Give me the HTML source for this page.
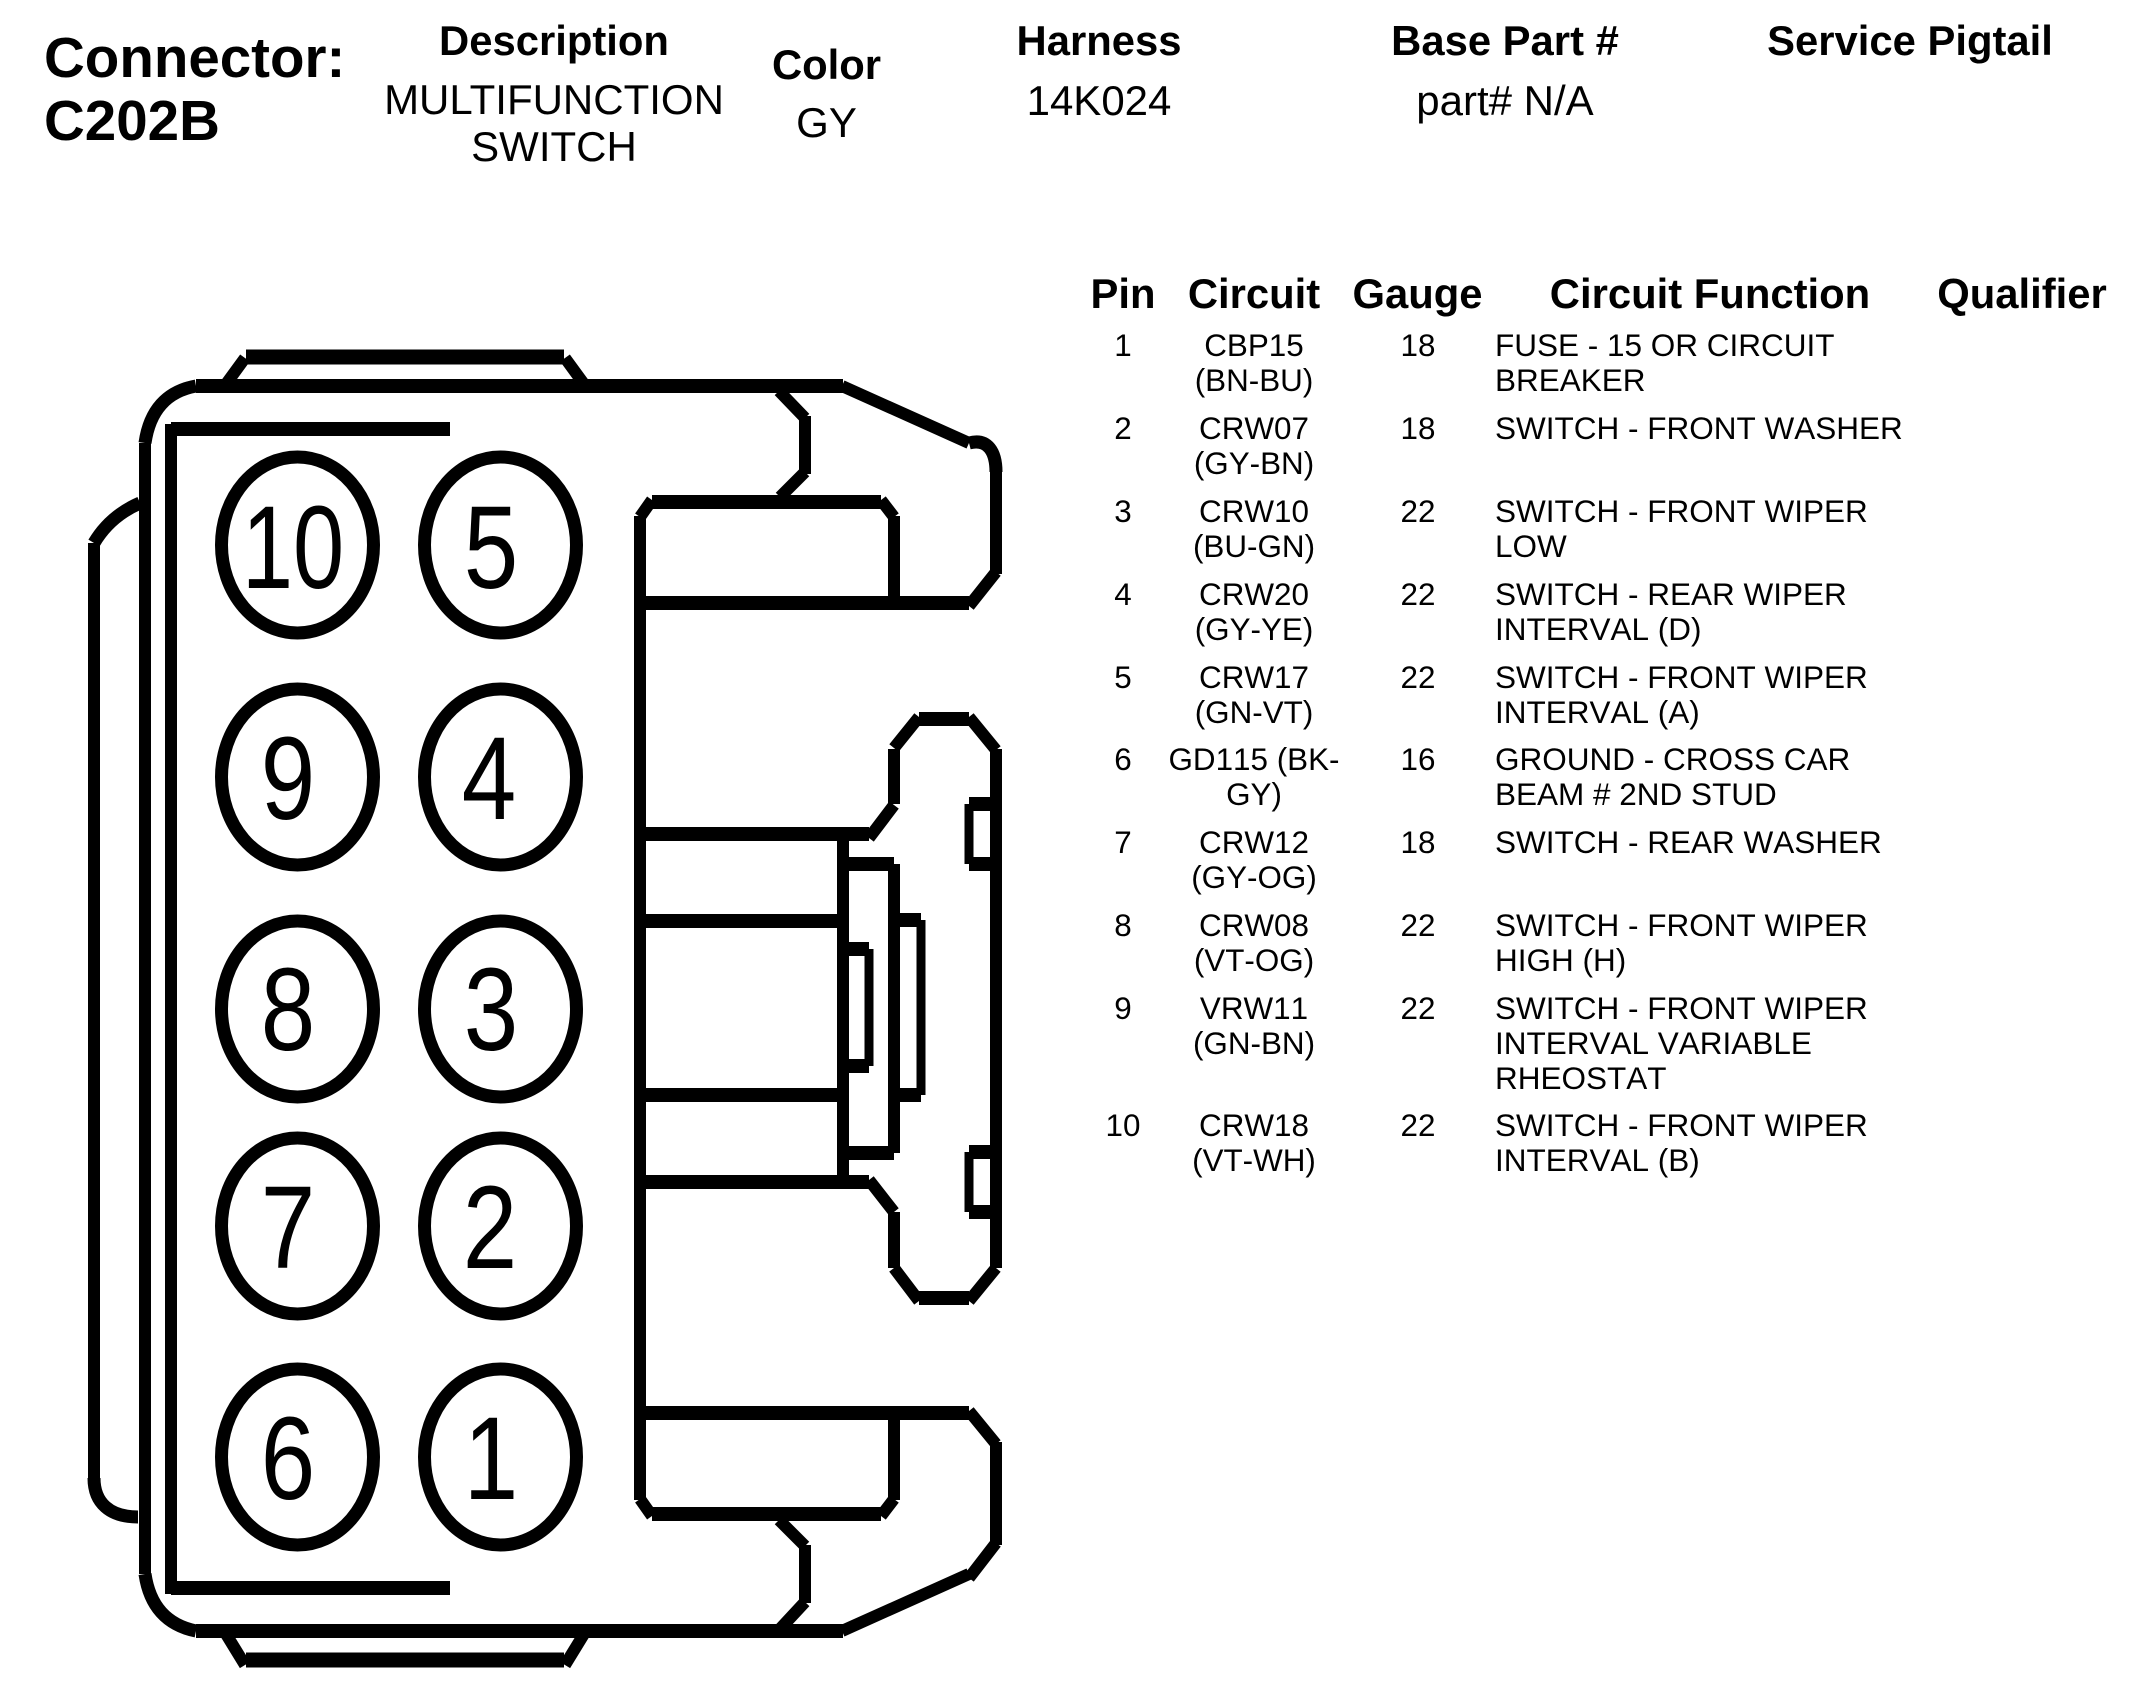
<!DOCTYPE html>
<html><head><meta charset="utf-8"><style>
html,body{margin:0;padding:0;background:#fff}
svg{display:block}
text{font-family:"Liberation Sans",sans-serif;fill:#000}
.b{font-weight:bold;font-size:41.8px;text-anchor:middle}
.h{font-size:42px;text-anchor:middle}
.c{font-size:31.4px;text-anchor:middle;font-kerning:none}
.f{font-size:31.5px;font-kerning:none}
.d{font-size:118px;text-anchor:middle}
.t{stroke:#000;stroke-width:14;fill:none}
.v{stroke:#000;stroke-width:12;fill:none}
.n{stroke:#000;stroke-width:9;fill:none}
.g{stroke:#000;stroke-width:13;fill:none}
</style></head><body>
<svg width="2145" height="1701" viewBox="0 0 2145 1701" xmlns="http://www.w3.org/2000/svg">
<rect width="2145" height="1701" fill="#fff"/>
<text x="44" y="77" style="font-weight:bold;font-size:56.5px">Connector:</text>
<text x="44" y="140" style="font-weight:bold;font-size:56.5px">C202B</text>
<text class="b" x="554" y="55">Description</text>
<text class="h" x="554" y="114">MULTIFUNCTION</text>
<text class="h" x="554" y="161">SWITCH</text>
<text class="b" x="826.5" y="79">Color</text>
<text class="h" x="826.5" y="137">GY</text>
<text class="b" x="1099" y="55">Harness</text>
<text class="h" x="1099" y="115">14K024</text>
<text class="b" x="1505" y="55">Base Part #</text>
<text class="h" x="1505" y="115">part# N/A</text>
<text class="b" x="1910" y="55">Service Pigtail</text>

<text class="b" x="1123" y="308">Pin</text>
<text class="b" x="1254" y="308">Circuit</text>
<text class="b" x="1417.5" y="308">Gauge</text>
<text class="b" x="1710" y="308">Circuit Function</text>
<text class="b" x="2022" y="308">Qualifier</text>

<text class="c" x="1123" y="356">1</text><text class="c" x="1254" y="356">CBP15</text><text class="c" x="1254" y="391">(BN-BU)</text><text class="c" x="1418" y="356">18</text><text class="f" x="1495" y="356">FUSE - 15 OR CIRCUIT</text><text class="f" x="1495" y="391">BREAKER</text>
<text class="c" x="1123" y="439">2</text><text class="c" x="1254" y="439">CRW07</text><text class="c" x="1254" y="474">(GY-BN)</text><text class="c" x="1418" y="439">18</text><text class="f" x="1495" y="439">SWITCH - FRONT WASHER</text>
<text class="c" x="1123" y="522">3</text><text class="c" x="1254" y="522">CRW10</text><text class="c" x="1254" y="557">(BU-GN)</text><text class="c" x="1418" y="522">22</text><text class="f" x="1495" y="522">SWITCH - FRONT WIPER</text><text class="f" x="1495" y="557">LOW</text>
<text class="c" x="1123" y="605">4</text><text class="c" x="1254" y="605">CRW20</text><text class="c" x="1254" y="640">(GY-YE)</text><text class="c" x="1418" y="605">22</text><text class="f" x="1495" y="605">SWITCH - REAR WIPER</text><text class="f" x="1495" y="640">INTERVAL (D)</text>
<text class="c" x="1123" y="688">5</text><text class="c" x="1254" y="688">CRW17</text><text class="c" x="1254" y="723">(GN-VT)</text><text class="c" x="1418" y="688">22</text><text class="f" x="1495" y="688">SWITCH - FRONT WIPER</text><text class="f" x="1495" y="723">INTERVAL (A)</text>
<text class="c" x="1123" y="770">6</text><text class="c" x="1254" y="770">GD115 (BK-</text><text class="c" x="1254" y="805">GY)</text><text class="c" x="1418" y="770">16</text><text class="f" x="1495" y="770">GROUND - CROSS CAR</text><text class="f" x="1495" y="805">BEAM # 2ND STUD</text>
<text class="c" x="1123" y="853">7</text><text class="c" x="1254" y="853">CRW12</text><text class="c" x="1254" y="888">(GY-OG)</text><text class="c" x="1418" y="853">18</text><text class="f" x="1495" y="853">SWITCH - REAR WASHER</text>
<text class="c" x="1123" y="936">8</text><text class="c" x="1254" y="936">CRW08</text><text class="c" x="1254" y="971">(VT-OG)</text><text class="c" x="1418" y="936">22</text><text class="f" x="1495" y="936">SWITCH - FRONT WIPER</text><text class="f" x="1495" y="971">HIGH (H)</text>
<text class="c" x="1123" y="1019">9</text><text class="c" x="1254" y="1019">VRW11</text><text class="c" x="1254" y="1054">(GN-BN)</text><text class="c" x="1418" y="1019">22</text><text class="f" x="1495" y="1019">SWITCH - FRONT WIPER</text><text class="f" x="1495" y="1054">INTERVAL VARIABLE</text><text class="f" x="1495" y="1089">RHEOSTAT</text>
<text class="c" x="1123" y="1136">10</text><text class="c" x="1254" y="1136">CRW18</text><text class="c" x="1254" y="1171">(VT-WH)</text><text class="c" x="1418" y="1136">22</text><text class="f" x="1495" y="1136">SWITCH - FRONT WIPER</text><text class="f" x="1495" y="1171">INTERVAL (B)</text>

<!-- pin circles -->
<g class="g">
<ellipse cx="297.5" cy="545" rx="76" ry="88"/><ellipse cx="500.5" cy="545" rx="76" ry="88"/>
<ellipse cx="297.5" cy="777" rx="76" ry="88"/><ellipse cx="500.5" cy="777" rx="76" ry="88"/>
<ellipse cx="297.5" cy="1009" rx="76" ry="88"/><ellipse cx="500.5" cy="1009" rx="76" ry="88"/>
<ellipse cx="297.5" cy="1226" rx="76" ry="88"/><ellipse cx="500.5" cy="1226" rx="76" ry="88"/>
<ellipse cx="297.5" cy="1457" rx="76" ry="88"/><ellipse cx="500.5" cy="1457" rx="76" ry="88"/>
</g>
<text class="d" transform="translate(293 588) scale(.78 1)">10</text>
<text class="d" transform="translate(491 588) scale(.83 1)">5</text>
<text class="d" transform="translate(288 819) scale(.83 1)">9</text>
<text class="d" transform="translate(489 819) scale(.83 1)">4</text>
<text class="d" transform="translate(288 1050) scale(.83 1)">8</text>
<text class="d" transform="translate(491 1050) scale(.83 1)">3</text>
<text class="d" transform="translate(288 1268) scale(.83 1)">7</text>
<text class="d" transform="translate(490 1268) scale(.83 1)">2</text>
<text class="d" transform="translate(288 1499) scale(.83 1)">6</text>
<text class="d" transform="translate(491 1499) scale(.83 1)">1</text>

<!-- thick horizontals -->
<path class="t" d="M196 386H843M196 1631H843
M171 429H450M171 1588H450
M652 502H881M640 603H969M652 1514H881M640 1413H969
M640 834H869M640 1182H869M640 921H838M640 1095H838
M919 719H969M919 1298H969
M843 864H894M843 1153H894M843 949H869M843 1066H869M894 920H921M894 1095H921
M969 804H991M969 864H991M969 1152H991M969 1212H991"/>
<path class="t" style="stroke-width:15" d="M246 357H564M246 1660H564"/>
<!-- verticals and diagonals -->
<path class="v" d="M145 443V1574M171 424V1594M94 543V1478M640 516V1500M894 516V603M894 1413V1500
M805 416V474M805 1545V1603M996 472V574M996 1442V1545M996 749V1268
M894 749V804M894 1212V1268M843 840V1176M894 864V1153
M245 358L226 384M565 358L584 384M226 1634L245 1665M584 1634L565 1665
M779 391L805 418M805 472L780 497M779 1520L805 1546M805 1602L779 1630
M652 500L640 517M881 500L894 517M640 1499L652 1516M894 1499L881 1516
M969 606L996 572M969 1411L996 1444M996 1543L969 1578
M869 838L894 805M894 748L919 717M969 717L996 750M996 1268L969 1301M919 1301L894 1268M894 1212L869 1180"/>
<path class="t" style="stroke-width:12" d="M842 386L969 443M969 1574L842 1631"/>
<path class="g" d="M196 386Q152 394 145 443M145 1574Q152 1622 196 1631M94 543Q110 516 140 503M94 1478C94 1503 110 1517 138 1517M969 443C988 438 996 452 996 472"/>
<path class="n" d="M869 949V1066M921 920V1095M969 804V864M969 1152V1212"/>
</svg>
</body></html>
